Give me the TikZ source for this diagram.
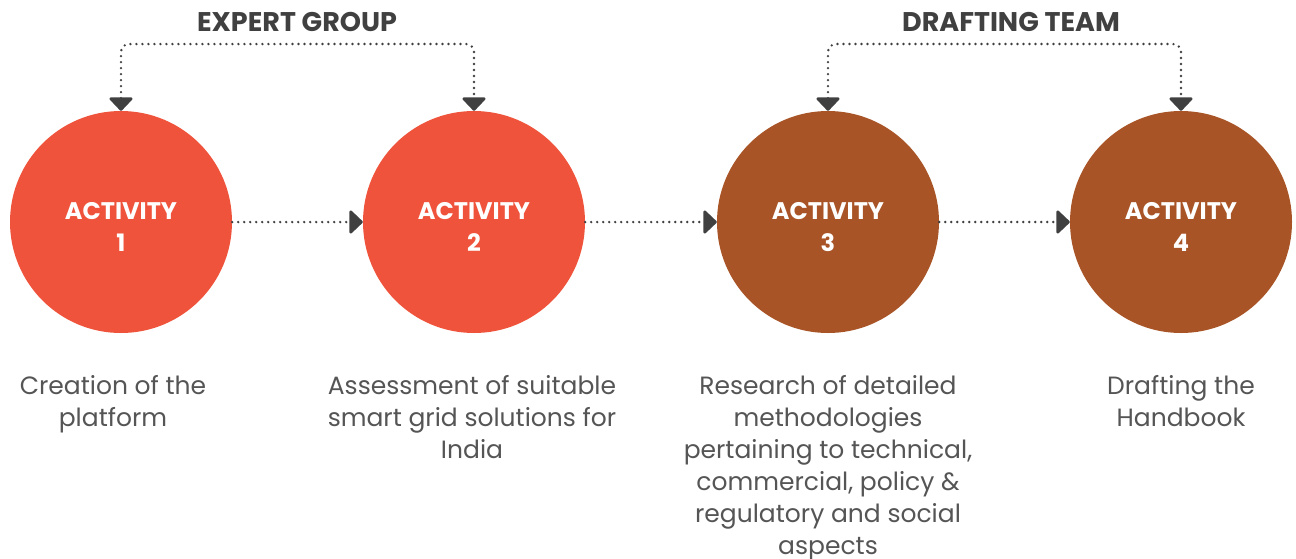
\documentclass[tikz,border=0pt]{standalone}
\usepackage{fontspec}
\setmainfont{Poppins}
\usetikzlibrary{arrows.meta,positioning}
\definecolor{actred}{HTML}{EF533B}
\definecolor{actbrown}{HTML}{A85426}
\definecolor{darkline}{HTML}{404040}
\definecolor{desctext}{HTML}{555555}
\tikzstyle{activity}=[circle, minimum size=222pt, inner sep=0pt]
\tikzstyle{acttext}=[text=white, align=center, yshift=-5pt,
  font=\fontsize{24}{32}\selectfont\bfseries]
\tikzstyle{desc}=[align=center, text=desctext, anchor=north,
  font=\fontsize{25}{32}\selectfont]
\tikzstyle{group}=[text=darkline, font=\fontsize{27}{30}\selectfont\bfseries]
\tikzstyle{line}=[draw, darkline, line width=2.6pt, line cap=round,
  dash pattern=on 0pt off 6pt,
  -{Triangle[width=26pt,length=14pt,round=false]}]
\tikzstyle{twoway}=[line,
  {Triangle[width=26pt,length=14pt,round=false]}-{Triangle[width=26pt,length=14pt,round=false]}]
\newcommand{\activity}[2]{node (a#1) [activity, fill=#2,
  label={[acttext]center:{ACTIVITY\\#1}}] {}}

\begin{document}
\begin{tikzpicture}
  \useasboundingbox (0,0) rectangle (1296pt,-558pt);

  % Draw the four activities
  \path (121pt,-222pt) \activity{1}{actred};
  \path (a1)+(353pt,0) \activity{2}{actred};
  \path (a2)+(354pt,0) \activity{3}{actbrown};
  \path (a3)+(353pt,0) \activity{4}{actbrown};

  % Draw the descriptions
  \path (a1.south)+(-8pt,-39pt) node (d1) [desc] {Creation of the\\platform};
  \path (a2.south)+(-2pt,-39pt) node (d2) [desc]
    {Assessment of suitable\\smart grid solutions for\\India};
  \path (a3.south)+(0,-39pt) node (d3) [desc]
    {Research of detailed\\methodologies\\pertaining to technical,\\commercial, policy \&\\regulatory and social\\aspects};
  \path (a4.south)+(0,-39pt) node (d4) [desc] {Drafting the\\Handbook};

  % Draw the groups
  \coordinate (eg) at (297pt,-44pt);
  \coordinate (dt) at (1004pt,-44pt);
  \path (eg)+(0,22pt) node (eglabel) [group] {EXPERT GROUP};
  \path (dt)+(7pt,22pt) node (dtlabel) [group] {DRAFTING TEAM};

  % Draw arrows between elements
  \path [line] (a1) -- (a2);
  \path [line] (a2) -- (a3);
  \path [line] (a3) -- (a4);
  \path [twoway, rounded corners=8pt] (a1.north) |- (eg) -| (a2.north);
  \path [twoway, rounded corners=8pt] (a3.north) |- (dt) -| (a4.north);
\end{tikzpicture}
\end{document}
